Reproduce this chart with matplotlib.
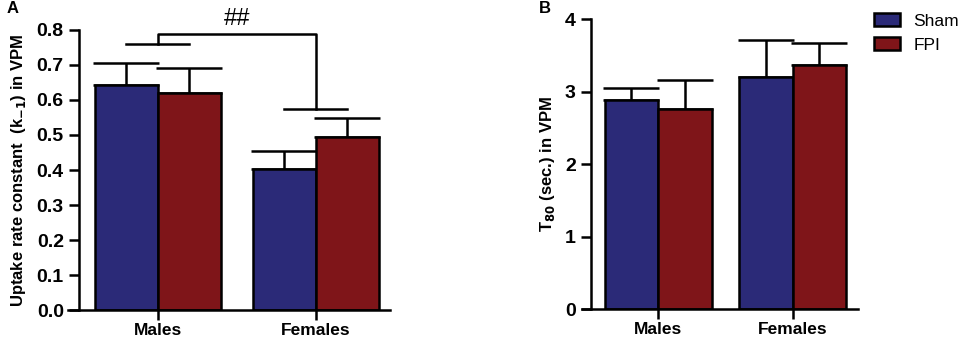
import numpy as np
from matplotlib import pyplot as plt

plt.rcParams['font.family'] = ['Liberation Sans', 'DejaVu Sans']

groups = ['Males', 'Females']
series = ['Sham', 'FPI']

# Panel A: uptake rate constant (mean, SEM)
a_sham = [0.643, 0.403]
a_sham_err = [0.063, 0.051]
a_fpi = [0.620, 0.494]
a_fpi_err = [0.071, 0.055]

# Panel B: T80 (mean, SEM)
b_sham = [2.88, 3.20]
b_sham_err = [0.17, 0.51]
b_fpi = [2.76, 3.37]
b_fpi_err = [0.40, 0.30]

blue = '#2B2A78'
red = '#7F1519'
lw = 1.8

fig = plt.figure(figsize=(9.58, 3.4), dpi=100)
axA = fig.add_axes([0.0825, 0.088, 0.3245, 0.824])
axB = fig.add_axes([0.617, 0.091, 0.279, 0.853])

x = np.arange(len(groups))
w = 0.4


def draw(ax, sham, sham_err, fpi, fpi_err, capsize):
    for off, vals, errs, col, lab in [(-w / 2, sham, sham_err, blue, series[0]),
                                     (w / 2, fpi, fpi_err, red, series[1])]:
        ax.bar(x + off, vals, w, color=col, edgecolor='black', linewidth=lw,
               label=lab, zorder=2)
        ax.errorbar(x + off, vals, yerr=[np.zeros(len(errs)), errs], fmt='none',
                    ecolor='black', elinewidth=lw, capsize=capsize, capthick=lw,
                    zorder=1)
    ax.spines['top'].set_visible(False)
    ax.spines['right'].set_visible(False)
    ax.spines['left'].set_linewidth(lw)
    ax.spines['bottom'].set_linewidth(lw)
    ax.set_xticks(x)
    ax.set_xticklabels(groups, fontsize=12.5, fontweight='bold')
    ax.tick_params(axis='both', width=lw, length=7.5, direction='out')
    ax.tick_params(axis='x', pad=2)


draw(axA, a_sham, a_sham_err, a_fpi, a_fpi_err, 24)
axA.set_xlim(-0.5, 1.47)
axA.set_ylim(0, 0.8)
axA.set_yticks(np.arange(0, 0.81, 0.1))
axA.set_yticklabels([f'{v:.1f}' for v in np.arange(0, 0.81, 0.1)],
                    fontsize=14, fontweight='bold')
axA.spines['bottom'].set_bounds(-0.57, 1.47)
axA.set_ylabel('Uptake rate constant  (k$_{\\mathbf{-1}}$) in VPM', fontsize=12,
               fontweight='bold', labelpad=6)

# significance bracket
kw = dict(color='black', linewidth=lw, clip_on=False)
axA.plot([-0.2, 0.2], [0.76, 0.76], **kw)
axA.plot([0.8, 1.2], [0.574, 0.574], **kw)
axA.plot([0.0, 0.0, 1.0, 1.0], [0.76, 0.789, 0.789, 0.574], **kw)
axA.text(0.5, 0.80, '##', ha='center', va='bottom', fontsize=17)

draw(axB, b_sham, b_sham_err, b_fpi, b_fpi_err, 20)
axB.set_xlim(-0.5, 1.49)
axB.set_ylim(0, 4)
axB.set_yticks([0, 1, 2, 3, 4])
axB.set_yticklabels(['0', '1', '2', '3', '4'], fontsize=14, fontweight='bold')
axB.spines['bottom'].set_bounds(-0.57, 1.49)
axB.set_ylabel('T$_{\\mathbf{80}}$ (sec.) in VPM', fontsize=12, fontweight='bold',
               labelpad=6)
axB.legend(loc='upper left', bbox_to_anchor=(1.06, 1.02), frameon=False,
           fontsize=12.5, handlelength=1.5, handleheight=0.75, handletextpad=0.75,
           labelspacing=0.5, borderpad=0, borderaxespad=0)

fig.text(0.007, 0.962, 'A', fontsize=12, fontweight='bold')
fig.text(0.563, 0.962, 'B', fontsize=12, fontweight='bold')

plt.savefig('out.png', dpi=100)
